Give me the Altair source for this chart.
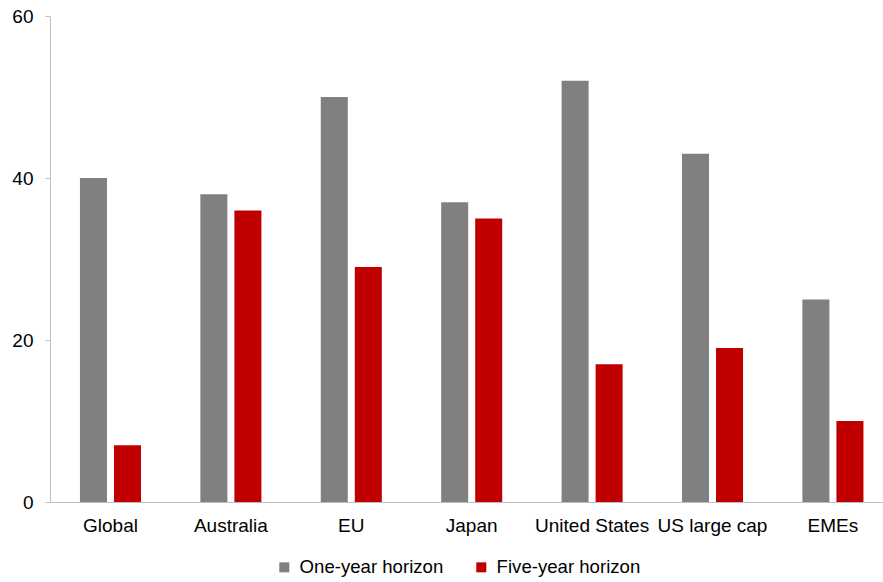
import altair as alt
import pandas as pd

categories = ["Global", "Australia", "EU", "Japan", "United States", "US large cap", "EMEs"]
series_names = ["One-year horizon", "Five-year horizon"]
one_year = [40, 38, 50, 37, 52, 43, 25]
five_year = [7, 36, 29, 35, 17, 19, 10]
y_ticks = [0, 20, 40, 60]

rows = []
for c, a, b in zip(categories, one_year, five_year):
    rows.append({"category": c, "series": series_names[0], "value": a})
    rows.append({"category": c, "series": series_names[1], "value": b})
df = pd.DataFrame(rows)

FONT = "Liberation Sans, Arial, sans-serif"
FS = 19

chart = alt.Chart(df).mark_bar().encode(
    x=alt.X("category:N", sort=categories,
            scale=alt.Scale(paddingInner=0.493, paddingOuter=0.2056, align=0.605),
            axis=alt.Axis(title=None, labelAngle=0, ticks=False, labelPadding=14,
                          domainColor="#BFBFBF", labelFontSize=FS, labelColor="#000000",
                          labelFont=FONT)),
    xOffset=alt.XOffset("series:N", sort=series_names,
                        scale=alt.Scale(paddingInner=0.206, paddingOuter=0)),
    y=alt.Y("value:Q", scale=alt.Scale(domain=[0, 60], nice=False),
            axis=alt.Axis(title=None, values=y_ticks, grid=False, tickSize=5,
                          labelPadding=12, domainColor="#BFBFBF", tickColor="#BFBFBF",
                          labelFontSize=FS, labelColor="#000000", labelFont=FONT)),
    color=alt.Color("series:N", sort=series_names,
                    scale=alt.Scale(domain=series_names, range=["#808080", "#C00000"]),
                    legend=alt.Legend(title=None, orient="none", direction="horizontal",
                                      legendX=225, legendY=542, symbolType="square",
                                      symbolSize=100, symbolStrokeWidth=0,
                                      labelFontSize=18.6, labelFont=FONT, labelColor="#000000",
                                      labelOffset=6, columnPadding=28, padding=0)),
).properties(
    width=833,
    height=486,
    padding={"left": 50, "top": 16, "right": 0, "bottom": 80},
    autosize=alt.AutoSizeParams(type="none"),
).configure_view(stroke=None)

chart.save("out.html", embed_options={"renderer": "svg", "actions": False})
